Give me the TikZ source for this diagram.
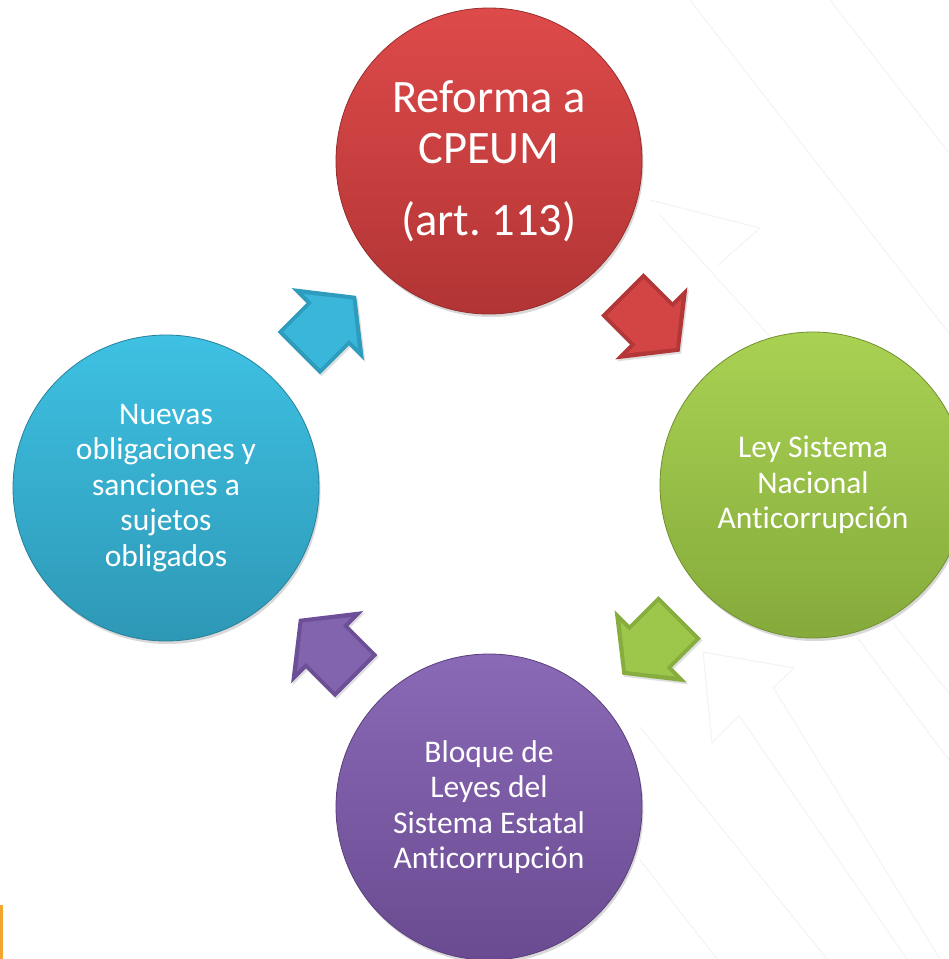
\documentclass[tikz,border=0pt]{standalone}
\usepackage{fontspec}
\setmainfont{Carlito}[Ligatures={NoCommon,NoContextual}]
\frenchspacing
\usetikzlibrary{calc,shadows}
\definecolor{redT}{HTML}{DE4A4A}
\definecolor{redB}{HTML}{B23434}
\definecolor{redE}{HTML}{B33737}
\definecolor{redF}{HTML}{D34444}
\definecolor{greenT}{HTML}{A9D253}
\definecolor{greenB}{HTML}{85AA3B}
\definecolor{greenE}{HTML}{87AD3E}
\definecolor{greenF}{HTML}{9DC74B}
\definecolor{purpleT}{HTML}{8A69B6}
\definecolor{purpleB}{HTML}{6A4B91}
\definecolor{purpleE}{HTML}{6C4F97}
\definecolor{purpleF}{HTML}{8264AE}
\definecolor{cyanT}{HTML}{3EC1E3}
\definecolor{cyanB}{HTML}{2E98B6}
\definecolor{cyanE}{HTML}{2E9CBC}
\definecolor{cyanF}{HTML}{3AB6DA}
\definecolor{bgline}{HTML}{F3F3F3}
\definecolor{barorange}{HTML}{F2A630}
\newcommand\blockarrow[4]{%
  \begin{scope}[shift={#1}, rotate=#2]
    \fill[#3, drop shadow={shadow xshift=1.5pt, shadow yshift=-2pt, opacity=0.25}]
      (-40.5,30) -- (0.5,30) -- (0.5,51) -- (40.5,0) -- (0.5,-51) -- (0.5,-30) -- (-40.5,-30) -- cycle;
    \fill[#4]
      (-36.5,26) -- (4.5,26) -- (4.5,38.5) -- (35.4,0) -- (4.5,-38.5) -- (4.5,-26) -- (-36.5,-26) -- cycle;
  \end{scope}}
\begin{document}
\begin{tikzpicture}[x=1pt,y=-1pt,
  stage/.style 2 args={circle, minimum size=306pt, inner sep=0pt, align=center,
    text=white, top color=#1, bottom color=#2, draw=#2!85!black, line width=0.8pt,
    drop shadow={shadow xshift=1.5pt, shadow yshift=-3pt, opacity=0.3}},
  bigtext/.style={font=\fontsize{46.5}{51}\selectfont},
  smalltext/.style={font=\fontsize{31.5}{35.5}\selectfont},
  bgstroke/.style={draw=bgline, line width=1pt}]
\useasboundingbox (0,0) rectangle (949,959);
\clip (0,0) rectangle (949,959);
\fill[white] (0,0) rectangle (949,959);
% faint background lines
\draw[bgstroke] (690,0) -- (949,333);
\draw[bgstroke] (830,0) -- (949,153);
\draw[bgstroke] (650,200) -- (760,228) -- (718,265);
\draw[bgstroke] (660,215) -- (773,340);
\draw[bgstroke] (857,637) -- (949,760);
\draw[bgstroke] (893,623) -- (949,693);
\draw[bgstroke] (773,687) -- (940,959);
\draw[bgstroke] (740,717) -- (907,959);
\draw[bgstroke] (640,727) -- (827,959);
\draw[bgstroke] (640,860) -- (717,959);
\draw[bgstroke] (794,668) -- (703,652) -- (712,743);
\draw[bgstroke] (794,668) -- (773,688);
\draw[bgstroke] (712,743) -- (740,715);
\fill[barorange] (0,905) rectangle (3,959);
% stages
\node[stage={redT}{redB}, bigtext] (red) at (489,161) {Reforma a\\CPEUM\\[21pt](art. 113)};
\node[stage={greenT}{greenB}, smalltext] (green) at (813,485) {Ley Sistema\\Nacional\\Anticorrupción};
\node[stage={purpleT}{purpleB}, smalltext] (purple) at (489,807) {Bloque de\\Leyes del\\Sistema Estatal\\Anticorrupción};
\node[stage={cyanT}{cyanB}, smalltext] (cyan) at (166,488) {Nuevas\\obligaciones y\\sanciones a\\sujetos\\obligados};
% block arrows between stages
\blockarrow{($(red)!0.5!(green)$)}{-45}{redE}{redF}
\blockarrow{($(green)!0.5!(purple)$)}{-135}{greenE}{greenF}
\blockarrow{($(purple)!0.5!(cyan)$)}{135}{purpleE}{purpleF}
\blockarrow{($(cyan)!0.5!(red)$)}{45}{cyanE}{cyanF}
\end{tikzpicture}
\end{document}
